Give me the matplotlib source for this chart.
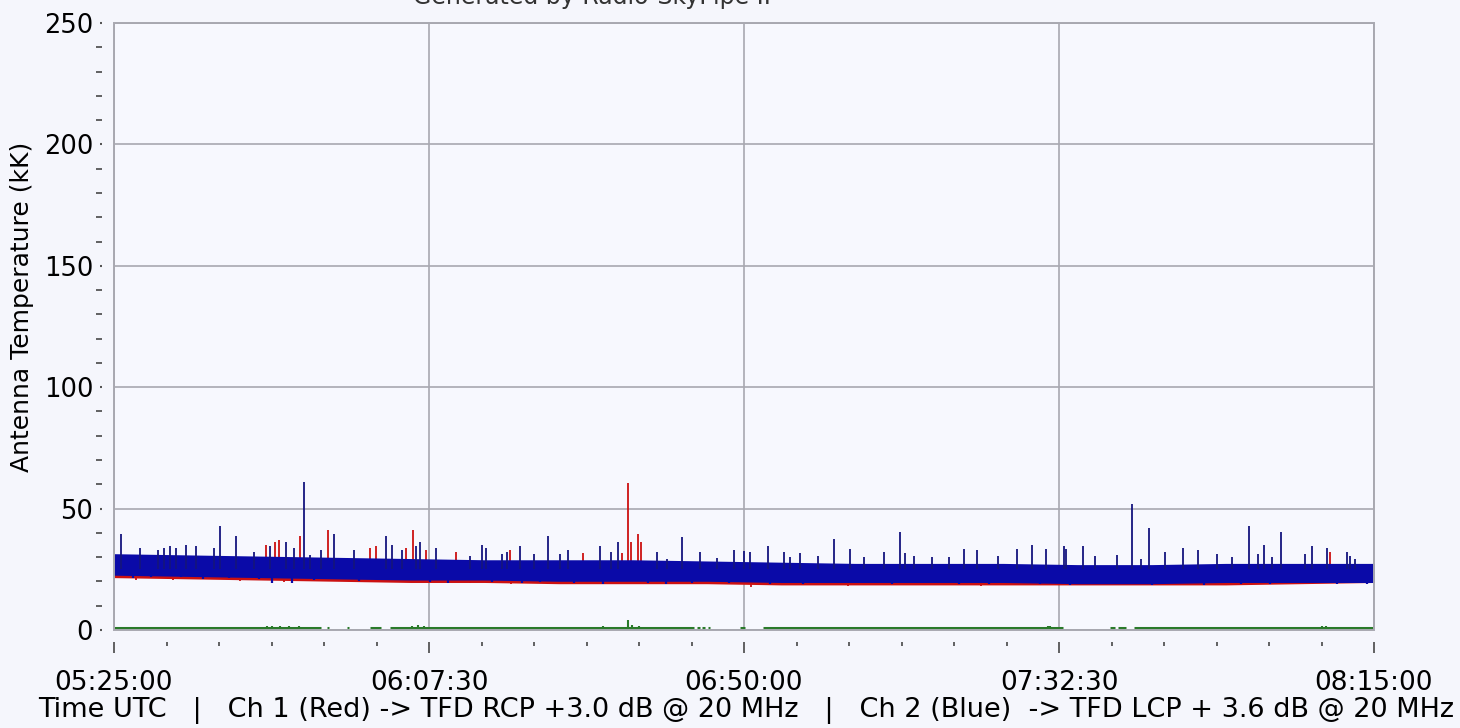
import numpy as np
import matplotlib.pyplot as plt
from matplotlib.patches import Rectangle

# time axis in minutes after 05:25:00
band_t = [0, 10, 20, 30, 40, 50, 60, 70, 80, 90, 100, 110, 120, 130, 140, 150, 160, 170]
blue_top = [31.0, 30.5, 30.0, 29.5, 29.0, 28.5, 28.5, 28.5, 28.0, 27.5, 27.0, 27.0, 27.0, 26.5, 26.5, 27.0, 27.0, 27.0]
blue_bot = [23.0, 22.5, 22.0, 21.5, 21.0, 21.0, 20.5, 20.5, 20.5, 20.0, 20.0, 20.0, 20.0, 19.5, 19.5, 20.0, 20.0, 20.0]
red_top = [29.5, 29.0, 29.0, 28.5, 28.0, 27.5, 27.5, 27.5, 27.0, 26.5, 26.5, 26.0, 26.0, 26.0, 26.0, 26.0, 26.5, 26.5]
red_bot = [22.0, 21.5, 21.0, 20.5, 20.0, 20.0, 19.5, 19.5, 19.5, 19.0, 19.0, 19.0, 19.0, 19.0, 19.0, 19.0, 19.5, 20.0]

blue_spike_t = [1.0, 3.5, 6.0, 6.7, 7.6, 8.3, 9.7, 11.0, 13.5, 14.3, 16.5, 18.9, 21.0, 23.2, 24.3,
                25.6, 26.5, 27.9, 29.7, 32.4, 36.7, 37.5, 38.9, 40.7, 41.3, 43.4, 48.0, 49.6, 50.2,
                52.4, 53.0, 54.8, 56.7, 58.6, 60.2, 61.3, 65.6, 67.1, 68.0, 73.2, 74.6, 76.7, 79.1,
                81.3, 83.6, 85.0, 85.8, 88.3, 90.4, 91.2, 92.6, 95.0, 97.2, 99.3, 101.2, 103.9,
                106.1, 106.7, 108.0, 110.4, 112.7, 114.7, 116.4, 119.3, 121.8, 123.9, 125.8, 128.2,
                128.5, 130.7, 132.3, 135.3, 137.4, 138.5, 139.6, 141.8, 144.2, 146.3, 148.8, 150.9,
                153.1, 154.4, 155.2, 156.3, 157.4, 160.7, 161.7, 163.6, 166.3, 166.8, 167.4]
blue_spike_v = [39.4, 33.6, 32.9, 33.6, 34.6, 33.6, 35.2, 34.6, 33.9, 42.8, 38.7, 32.1, 34.6, 36.4, 33.9,
                61.1, 31.0, 32.9, 39.4, 32.9, 38.7, 35.2, 32.9, 34.6, 36.4, 33.6, 30.5, 35.2, 33.6,
                31.2, 32.3, 34.6, 31.2, 38.7, 31.2, 32.9, 34.6, 32.3, 36.4, 32.3, 29.3, 38.1, 32.3,
                29.6, 32.9, 32.5, 32.3, 34.6, 32.3, 29.9, 31.6, 30.5, 37.4, 33.3, 29.9, 32.3,
                40.5, 31.6, 30.5, 29.9, 29.9, 33.3, 32.9, 30.5, 33.3, 35.2, 33.3, 34.6,
                33.3, 34.6, 30.5, 31.0, 51.8, 29.3, 42.1, 32.3, 33.9, 32.9, 31.2, 29.9,
                42.8, 31.2, 35.2, 29.9, 40.5, 31.2, 34.6, 33.9, 32.3, 30.5, 29.3]
red_spike_t = [20.5, 21.7, 22.2, 25.1, 28.9, 34.6, 35.3, 39.4, 40.3, 42.1, 46.1, 53.4, 63.3, 68.6,
               69.4, 69.7, 70.7, 71.1, 164.1]
red_spike_v = [35.2, 36.4, 37.1, 38.7, 41.2, 33.6, 34.6, 33.6, 41.2, 32.9, 32.3, 32.9, 31.9, 31.9,
               60.4, 36.4, 39.4, 36.4, 32.3]

# downward excursions below the noise band
blue_dip_t = [2.5, 5.0, 9.0, 12.0, 15.5, 19.5, 21.3, 24.0, 27.0, 31.0, 33.0, 38.0, 42.6, 45.0, 51.0,
              55.0, 57.5, 62.0, 66.0, 72.0, 74.5, 78.0, 83.0, 88.5, 93.0, 98.0, 101.0, 105.0, 109.0,
              114.0, 118.0, 121.0, 125.0, 129.0, 133.0, 136.0, 140.0, 143.0, 147.0, 152.0, 156.0,
              159.0, 165.0, 169.0]
blue_dip_v = [21.5, 22.0, 21.8, 21.0, 21.5, 21.0, 19.5, 19.3, 20.5, 21.0, 20.0, 20.5, 19.8, 19.5, 19.8,
              19.5, 19.8, 19.5, 19.0, 19.3, 18.8, 19.5, 19.2, 18.8, 19.0, 19.3, 19.2, 19.0, 19.3,
              19.0, 18.8, 19.2, 19.0, 18.5, 19.0, 18.8, 18.6, 19.2, 18.7, 19.0, 18.8,
              19.2, 19.0, 19.0]
red_dip_t = [3.0, 8.0, 17.0, 23.0, 34.5, 48.0, 53.5, 63.0, 80.0, 86.0, 99.0, 117.0, 131.0, 146.0, 151.0]
red_dip_v = [20.5, 20.5, 20.3, 19.8, 19.8, 19.3, 19.0, 19.0, 18.8, 17.8, 18.3, 18.3, 18.5, 18.7, 18.5]

green_level = 0.7
green_start = [0.0, 28.7, 31.4, 34.6, 37.3, 78.7, 79.4, 80.1, 84.5, 87.6, 134.4, 135.5, 137.6]
green_end = [27.9, 29.0, 31.7, 36.0, 78.2, 79.0, 79.7, 80.4, 85.1, 128.1, 135.0, 136.6, 169.9]
green_bump_t = [20.6, 21.3, 22.4, 23.6, 25.0, 40.2, 41.0, 41.8, 44.9, 46.0, 49.9, 53.4, 63.0, 66.0,
                69.4, 69.9, 70.8, 88.7, 90.5, 112.3, 126.0, 126.3, 148.9, 156.2, 163.0, 163.5]
green_bump_v = [1.8, 1.6, 1.8, 1.5, 1.6, 1.6, 2.2, 1.6, 1.4, 1.4, 1.4, 1.4, 1.4, 1.5,
                4.1, 2.0, 1.8, 1.4, 1.4, 1.4, 1.7, 1.7, 1.4, 1.4, 1.5, 1.6]

tick_pos = [0, 42.5, 85, 127.5, 170]
tick_labels = ["05:25:00", "06:07:30", "06:50:00", "07:32:30", "08:15:00"]

bg = '#f5f6fc'
fig = plt.figure(figsize=(14.6, 7.28), dpi=100, facecolor=bg)
ax = fig.add_axes([114 / 1460, 1 - 630 / 728, 1260 / 1460, 607 / 728])
ax.set_facecolor('#f7f8fe')

# channels
ax.fill_between(band_t, red_bot, red_top, color='#cc1111', lw=1.5, zorder=2)
ax.vlines(red_spike_t, 25, red_spike_v, color='#cc1111', lw=1.3, zorder=2)
ax.vlines(red_dip_t, 24, red_dip_v, color='#cc1111', lw=1.3, zorder=2)
ax.fill_between(band_t, blue_bot, blue_top, color='#0a0aa8', lw=1.5, zorder=3)
ax.vlines(blue_spike_t, 25, blue_spike_v, color='#14147e', lw=1.3, zorder=3)
ax.vlines(blue_dip_t, 24, blue_dip_v, color='#0a0aa8', lw=1.6, zorder=3)

# green trace
ax.hlines([green_level] * len(green_start), green_start, green_end, color='#2a7a2a', lw=2.2, zorder=3)
ax.vlines(green_bump_t, green_level, green_bump_v, color='#2a7a2a', lw=1.5, zorder=3)

ax.set_xlim(0, 170)
ax.set_ylim(0, 250)

ax.set_xticks(tick_pos)
ax.set_xticklabels(tick_labels)
ax.set_xticks(np.arange(0, 170.01, 42.5 / 6), minor=True)
ax.set_yticks(np.arange(0, 251, 50))
ax.set_yticks(np.arange(0, 251, 10), minor=True)

ax.grid(True, which='major', color='#a8a8b0', lw=1.2)
ax.set_axisbelow(True)

for s in ax.spines.values():
    s.set_visible(False)
ax.spines['left'].set_position(('outward', 8.5))
ax.spines['bottom'].set_position(('outward', 8.5))
ax.add_patch(Rectangle((0, 0), 1, 1, transform=ax.transAxes, fill=False,
                       ec='#a8a8b0', lw=1.4, clip_on=False, zorder=5))

ax.tick_params(axis='y', which='major', length=1.5, width=1.5, color='#555555',
               labelsize=18.5, pad=5)
ax.tick_params(axis='y', which='minor', length=4, width=1.3, color='#555555')
ax.tick_params(axis='x', which='major', length=8, width=1.3, color='#555555',
               labelsize=19, pad=12)
ax.tick_params(axis='x', which='minor', length=3, width=1.3, color='#555555')

fig.text(22 / 1460, 1 - 307 / 728, "Antenna Temperature (kK)", rotation=90,
         ha='center', va='center', fontsize=18)
fig.text(746 / 1460, 1 - 711 / 728,
         "Time UTC   |   Ch 1 (Red) -> TFD RCP +3.0 dB @ 20 MHz   |   "
         "Ch 2 (Blue)  -> TFD LCP + 3.6 dB @ 20 MHz",
         ha='center', va='center', fontsize=19.5)
fig.text(592 / 1460, 1 - 4 / 728, "Generated by Radio-SkyPipe II",
         ha='center', va='baseline', fontsize=17, color='#333333')

fig.savefig('out.png', dpi=100, facecolor=bg)
